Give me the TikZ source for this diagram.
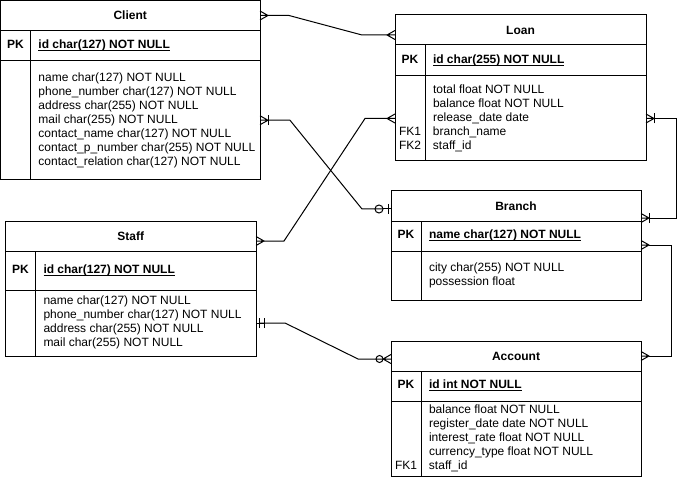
\documentclass[tikz,border=0pt]{standalone}
\usepackage{fontspec}
\setmainfont{Liberation Sans}
\usepackage{array}
\usetikzlibrary{positioning, arrows.meta}

\newcolumntype{K}{>{\centering\arraybackslash}p{30pt}}
\newsavebox\pkbox
\newcommand{\pkfield}[1]{\sbox\pkbox{\textbf{#1}}\rlap{\rule[-2.2pt]{\wd\pkbox}{0.7pt}}\usebox\pkbox}

% crow's foot: prongs spread at the table side
\pgfdeclarearrow{
  name = Crow,
  parameters = {\the\pgfarrowlength,\the\pgfarrowwidth},
  setup code = {
    \pgfarrowssettipend{0pt}
    \pgfarrowssetlineend{-\pgfarrowlength}
    \pgfarrowssetbackend{-\pgfarrowlength}
    \pgfarrowssetvisualbackend{-\pgfarrowlength}
    \pgfarrowshullpoint{0pt}{.5\pgfarrowwidth}
    \pgfarrowshullpoint{0pt}{-.5\pgfarrowwidth}
    \pgfarrowshullpoint{-\pgfarrowlength}{0pt}
  },
  drawing code = {
    \pgfsetroundjoin
    \pgfpathmoveto{\pgfqpoint{0pt}{.5\pgfarrowwidth}}
    \pgfpathlineto{\pgfqpoint{-\pgfarrowlength}{0pt}}
    \pgfpathlineto{\pgfqpoint{0pt}{-.5\pgfarrowwidth}}
    \pgfpathmoveto{\pgfqpoint{0pt}{0pt}}
    \pgfpathlineto{\pgfqpoint{-\pgfarrowlength}{0pt}}
    \pgfusepathqstroke
  },
  defaults = {length=8pt, width=9pt}
}

% cross bar, inset = distance from the table side
\pgfdeclarearrow{
  name = ERBar,
  parameters = {\the\pgfarrowlength,\the\pgfarrowwidth,\the\pgfarrowinset},
  setup code = {
    \pgfarrowssettipend{0pt}
    \pgfarrowssetlineend{-\pgfarrowlength}
    \pgfarrowssetbackend{-\pgfarrowlength}
    \pgfarrowssetvisualbackend{-\pgfarrowlength}
    \pgfarrowshullpoint{0pt}{.5\pgfarrowwidth}
    \pgfarrowshullpoint{0pt}{-.5\pgfarrowwidth}
    \pgfarrowshullpoint{-\pgfarrowlength}{.5\pgfarrowwidth}
    \pgfarrowshullpoint{-\pgfarrowlength}{-.5\pgfarrowwidth}
  },
  drawing code = {
    \pgfpathmoveto{\pgfqpoint{0pt}{0pt}}
    \pgfpathlineto{\pgfqpoint{-\pgfarrowlength}{0pt}}
    \pgfpathmoveto{\pgfqpoint{-\pgfarrowinset}{.5\pgfarrowwidth}}
    \pgfpathlineto{\pgfqpoint{-\pgfarrowinset}{-.5\pgfarrowwidth}}
    \pgfusepathqstroke
  },
  defaults = {length=8pt, width=10pt, inset=3pt}
}

% open ring
\pgfdeclarearrow{
  name = ERRing,
  parameters = {\the\pgfarrowlength},
  setup code = {
    \pgfarrowssettipend{0pt}
    \pgfarrowssetlineend{-\pgfarrowlength}
    \pgfarrowssetbackend{-\pgfarrowlength}
    \pgfarrowssetvisualbackend{-\pgfarrowlength}
    \pgfarrowshullpoint{0pt}{.5\pgfarrowlength}
    \pgfarrowshullpoint{0pt}{-.5\pgfarrowlength}
    \pgfarrowshullpoint{-\pgfarrowlength}{.5\pgfarrowlength}
    \pgfarrowshullpoint{-\pgfarrowlength}{-.5\pgfarrowlength}
  },
  drawing code = {
    \pgfpathcircle{\pgfqpoint{-.5\pgfarrowlength}{0pt}}{.5\pgfarrowlength}
    \pgfusepathqstroke
  },
  defaults = {length=8pt}
}

\begin{document}
\begin{tikzpicture}[x=1pt, y=-1pt,
      font=\fontsize{12}{14}\selectfont,
      tabletitle/.style={draw, line width=1pt, outer sep=0pt, inner sep=0pt, anchor=north west,
        minimum height=30pt, font=\fontsize{12}{14}\selectfont\bfseries},
      tablerow/.style={draw, line width=1pt, outer sep=0pt, inner sep=0pt},
      fields/.style={anchor=west, inner sep=0pt, outer sep=0pt, align=left},
      link/.style={line width=1pt},
      onemany/.tip={ERBar[length=0.5pt, inset=0pt] Crow[]},
      zeroone/.tip={ERRing[] ERBar[length=8pt, inset=3pt]},
      mandone/.tip={ERBar[length=5pt, inset=4pt] ERBar[length=4pt, inset=3pt]},
      zeromany/.tip={ERRing[length=7pt] Crow[]}]

    \useasboundingbox (0,0) rectangle (685,481);

    % Client
    \node[tabletitle, minimum width=259.5pt] (client) at (0.5,0.5) {Client};
    \node[tablerow, minimum width=259.5pt, minimum height=30pt, below=0pt of client] (client pk) {};
    \node[tablerow, minimum width=259.5pt, minimum height=119.5pt, below=0pt of client pk] (client body) {};
    \draw[link] ([xshift=30pt]client pk.north west) -- ([xshift=30pt]client body.south west);
    \node[fields] (client key) at (client pk.west) {\begin{tabular}{@{}K@{\hspace{8pt}}l@{}}
      \textbf{PK} & \pkfield{id char(127) NOT NULL}\end{tabular}};
    \node[fields] (client text) at (client body.west) {\begin{tabular}{@{}K@{\hspace{8pt}}l@{}}
      & name char(127) NOT NULL\\
      & phone\_number char(127) NOT NULL\\
      & address char(255) NOT NULL\\
      & mail char(255) NOT NULL\\
      & contact\_name char(127) NOT NULL\\
      & contact\_p\_number char(255) NOT NULL\\
      & contact\_relation char(127) NOT NULL\end{tabular}};

    % Loan
    \node[tabletitle, minimum width=251pt] (loan) at (395,15) {Loan};
    \node[tablerow, minimum width=251pt, minimum height=31pt, below=0pt of loan] (loan pk) {};
    \node[tablerow, minimum width=251pt, minimum height=85pt, below=0pt of loan pk] (loan body) {};
    \draw[link] ([xshift=30pt]loan pk.north west) -- ([xshift=30pt]loan body.south west);
    \node[fields] (loan key) at (loan pk.west) {\begin{tabular}{@{}K@{\hspace{8pt}}l@{}}
      \textbf{PK} & \pkfield{id char(255) NOT NULL}\end{tabular}};
    \node[fields] (loan text) at (loan body.west) {\begin{tabular}{@{}K@{\hspace{8pt}}l@{}}
      & total float NOT NULL\\
      & balance float NOT NULL\\
      & release\_date date\\
      FK1 & branch\_name\\
      FK2 & staff\_id\end{tabular}};

    % Branch
    \node[tabletitle, minimum width=250pt] (branch) at (391,191) {Branch};
    \node[tablerow, minimum width=250pt, minimum height=30pt, below=0pt of branch] (branch pk) {};
    \node[tablerow, minimum width=250pt, minimum height=49pt, below=0pt of branch pk] (branch body) {};
    \draw[link] ([xshift=30pt]branch pk.north west) -- ([xshift=30pt]branch body.south west);
    \node[fields] (branch key) at (branch pk.west) {\begin{tabular}{@{}K@{\hspace{8pt}}l@{}}
      \textbf{PK} & \pkfield{name char(127) NOT NULL}\end{tabular}};
    \node[fields] (branch text) at (branch body.west) {\begin{tabular}{@{}K@{\hspace{8pt}}l@{}}
      & city char(255) NOT NULL\\
      & possession float\end{tabular}};

    % Staff
    \node[tabletitle, minimum width=250.5pt] (staff) at (5.5,221) {Staff};
    \node[tablerow, minimum width=250.5pt, minimum height=39pt, below=0pt of staff] (staff pk) {};
    \node[tablerow, minimum width=250.5pt, minimum height=66pt, below=0pt of staff pk] (staff body) {};
    \draw[link] ([xshift=30pt]staff pk.north west) -- ([xshift=30pt]staff body.south west);
    \node[fields] (staff key) at (staff pk.west) {\begin{tabular}{@{}K@{\hspace{8pt}}l@{}}
      \textbf{PK} & \pkfield{id char(127) NOT NULL}\end{tabular}};
    \node[fields] (staff text) at (staff body.west) {\begin{tabular}{@{}K@{\hspace{8pt}}l@{}}
      & name char(127) NOT NULL\\
      & phone\_number char(127) NOT NULL\\
      & address char(255) NOT NULL\\
      & mail char(255) NOT NULL\end{tabular}};

    % Account
    \node[tabletitle, minimum width=250pt] (account) at (391,341) {Account};
    \node[tablerow, minimum width=250pt, minimum height=30pt, below=0pt of account] (account pk) {};
    \node[tablerow, minimum width=250pt, minimum height=75pt, below=0pt of account pk] (account body) {};
    \draw[link] ([xshift=30pt]account pk.north west) -- ([xshift=30pt]account body.south west);
    \node[fields] (account key) at (account pk.west) {\begin{tabular}{@{}K@{\hspace{8pt}}l@{}}
      \textbf{PK} & \pkfield{id int NOT NULL}\end{tabular}};
    \node[fields] (account text) at (account body.west) {\begin{tabular}{@{}K@{\hspace{8pt}}l@{}}
      & balance float NOT NULL\\
      & register\_date date NOT NULL\\
      & interest\_rate float NOT NULL\\
      & currency\_type float NOT NULL\\
      FK1 & staff\_id\end{tabular}};

    % relations
    \draw[link, {Crow[]}-{Crow[]}] (client.east) -- ++(29,0) -- ([shift={(-33,5)}]loan.west) -- ([yshift=-5pt]loan.west);
    \draw[link, {onemany[]}-{zeroone[]}] (client body.east) -- ++(30,0) -- ([shift={(-29,3)}]branch.west) -- ([yshift=-3pt]branch.west);
    \draw[link, {Crow[]}-{Crow[]}] ([yshift=-5pt]staff.east) -- ++(28,0) -- ([shift={(-30,0)}]loan body.west) -- (loan body.west);
    \draw[link, {mandone[]}-{zeromany[]}] (staff body.east) -- ++(29,0) -- ([shift={(-33,3)}]account.west) -- ([yshift=-3pt]account.west);
    \draw[link, {onemany[]}-{onemany[]}] (loan body.east) -- ++(30,0) |- ([yshift=-12pt]branch.east);
    \draw[link, {Crow[]}-{Crow[]}] ([yshift=-9pt]branch pk.east) -- ++(30,0) |- (account.east);
  \end{tikzpicture}
\end{document}
